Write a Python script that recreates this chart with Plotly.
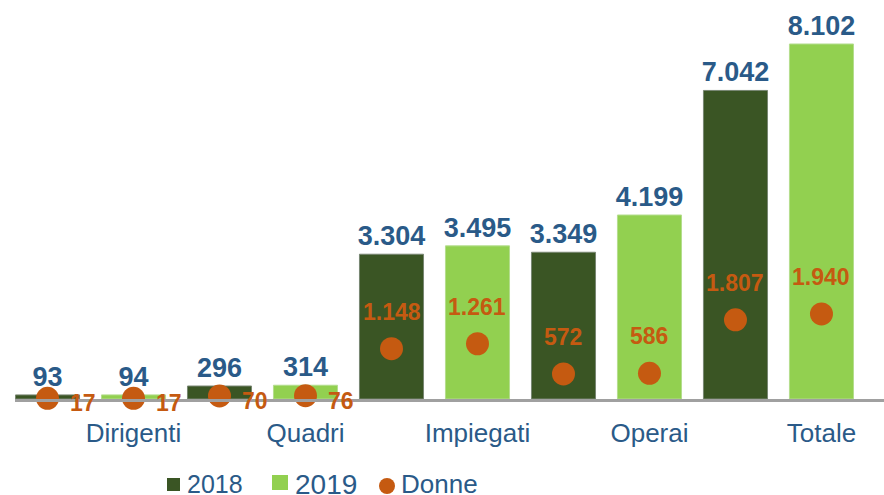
import plotly.graph_objects as go

# Workforce by role, 2018 vs 2019, with the number of women (Donne)
categories = ["Dirigenti", "Quadri", "Impiegati", "Operai", "Totale"]
totale_2018 = [93, 296, 3304, 3349, 7042]
totale_2019 = [94, 314, 3495, 4199, 8102]
donne_2018 = [17, 70, 1148, 572, 1807]
donne_2019 = [17, 76, 1261, 586, 1940]
legend_labels = ["2018", "2019", "Donne"]

DARK_GREEN = "#3A5524"
LIGHT_GREEN = "#92D050"
ORANGE = "#C55A11"
BLUE = "#2A5A88"
SANS = "Liberation Sans, Arial, sans-serif"

W, H = 884, 495
M_L, M_B = 15, 96
PLOT_W, PLOT_H = W - M_L, H - M_B

# each role occupies two adjacent slots: 2018 on the left, 2019 on the right
x_2018 = [2 * i for i in range(len(categories))]
x_2019 = [2 * i + 1 for i in range(len(categories))]

# interleave the women counts so the dots sit on their own bar
x_donne, y_donne = [], []
for i in range(len(categories)):
    x_donne += [x_2018[i], x_2019[i]]
    y_donne += [donne_2018[i], donne_2019[i]]


def it_number(v):
    return f"{v:,}".replace(",", ".")


def px_x(p):
    """page pixel column -> paper x"""
    return (p - M_L) / PLOT_W


def px_y(p):
    """page pixel row -> paper y"""
    return (PLOT_H - p) / PLOT_H


fig = go.Figure()
fig.add_trace(go.Bar(
    x=x_2018, y=totale_2018, name=legend_labels[0], width=0.745,
    marker=dict(color=DARK_GREEN, line=dict(color="#788672", width=1)),
    texttemplate="<b>%{y:,}</b>", textposition="outside", constraintext="none",
    textfont=dict(family=SANS, size=27, color=BLUE), cliponaxis=False,
))
fig.add_trace(go.Bar(
    x=x_2019, y=totale_2019, name=legend_labels[1], width=0.745,
    marker=dict(color=LIGHT_GREEN, line=dict(color="#B4DD8E", width=1)),
    texttemplate="<b>%{y:,}</b>", textposition="outside", constraintext="none",
    textfont=dict(family=SANS, size=27, color=BLUE), cliponaxis=False,
))
fig.add_trace(go.Scatter(
    x=x_donne, y=y_donne, name=legend_labels[2],
    mode="markers", marker=dict(color=ORANGE, size=23), cliponaxis=False,
))

# women counts: small ones beside the dot, larger ones above it
for xv, yv in zip(x_donne, y_donne):
    small = yv < 100
    fig.add_annotation(
        x=xv, y=yv, text=f"<b>{it_number(yv)}</b>", showarrow=False,
        xanchor="left" if small else "center", yanchor="middle",
        xshift=20 if small else 0, yshift=-5 if small else 37,
        font=dict(family=SANS, size=23, color=ORANGE),
    )

# legend row under the axis: swatch box (x0, x1, y0, y1), text start, font size
legend_items = [
    ("rect", DARK_GREEN, (167, 180, 478, 491), 186, 25),
    ("rect", LIGHT_GREEN, (272, 288, 475, 490), 294, 28),
    ("circle", ORANGE, (379, 395, 478, 494), 400, 26),
]
for label, (kind, color, (x0, x1, y0, y1), tx, fs) in zip(legend_labels, legend_items):
    fig.add_shape(
        type=kind, xref="paper", yref="paper",
        x0=px_x(x0), x1=px_x(x1), y0=px_y(y1), y1=px_y(y0),
        fillcolor=color, line=dict(width=0),
    )
    fig.add_annotation(
        xref="paper", yref="paper", x=px_x(tx), y=px_y(484),
        text=label, showarrow=False, xanchor="left", yanchor="middle",
        font=dict(family=SANS, size=fs, color=BLUE), borderpad=0,
    )

fig.update_layout(
    width=W, height=H,
    margin=dict(l=M_L, r=0, t=0, b=M_B, autoexpand=False),
    paper_bgcolor="white", plot_bgcolor="white",
    separators=",.",
    barmode="overlay",
    showlegend=False,
    xaxis=dict(
        range=[-0.378, 9.727],
        tickmode="array", tickvals=x_2019, ticktext=categories,
        tickfont=dict(family=SANS, size=26, color=BLUE),
        ticks="", ticklabelstandoff=9, automargin=False,
        showline=True, linecolor="#A0A0A0", linewidth=3,
        showgrid=False, zeroline=False, fixedrange=True,
    ),
    yaxis=dict(
        range=[0, 9106], visible=False, showgrid=False, zeroline=False,
        fixedrange=True, automargin=False,
    ),
)

fig.write_html("out.html")
